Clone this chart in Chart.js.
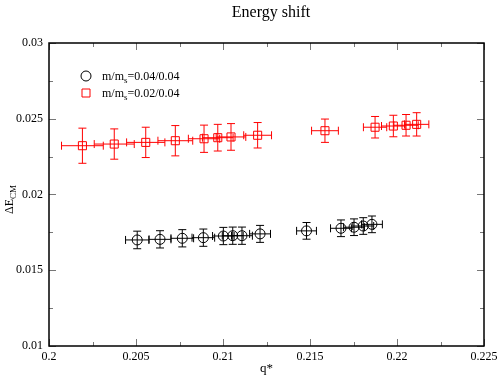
<!DOCTYPE html>
<html lang="en">
<head>
    <meta charset="UTF-8">
    <title>Energy shift</title>
    <script src="https://cdn.jsdelivr.net/npm/chart.js"></script>
    <style>
        body { margin: 0; background: white; }
        .chart-container { width: 498px; height: 376px; }
    </style>
</head>
<body>
    <div class="chart-container">
        <canvas id="shiftChart"></canvas>
    </div>

    <script>
        // m/ms = 0.04/0.04 (black circles)
        const qHeavy = [0.20507, 0.20638, 0.20766, 0.20887, 0.21002, 0.21056, 0.21109, 0.21213, 0.2148, 0.21678, 0.21753, 0.21806, 0.21856];
        const eHeavy = [0.0170, 0.01704, 0.01711, 0.01715, 0.01726, 0.01728, 0.01728, 0.0174, 0.0176, 0.01777, 0.01784, 0.01792, 0.01803];
        const qErrHeavy = [0.00067, 0.00063, 0.00065, 0.00065, 0.00062, 0.0006, 0.0006, 0.0006, 0.00057, 0.0006, 0.0006, 0.0006, 0.0006];
        const eErrHeavy = [0.00058, 0.00057, 0.00057, 0.00057, 0.00057, 0.00057, 0.00057, 0.00056, 0.00055, 0.00055, 0.00055, 0.00055, 0.00055];

        // m/ms = 0.02/0.04 (red squares)
        const qLight = [0.20192, 0.20375, 0.20556, 0.20726, 0.20891, 0.2097, 0.21046, 0.21199, 0.21586, 0.21874, 0.21979, 0.22052, 0.22113];
        const eLight = [0.02322, 0.02333, 0.02344, 0.02355, 0.02368, 0.02375, 0.0238, 0.02391, 0.02421, 0.02444, 0.02452, 0.02457, 0.02463];
        const qErrLight = [0.0012, 0.00115, 0.0011, 0.001, 0.0009, 0.00088, 0.00085, 0.0008, 0.00077, 0.00067, 0.00068, 0.0007, 0.0007];
        const eErrLight = [0.00116, 0.001, 0.001, 0.001, 0.0009, 0.00088, 0.00088, 0.00084, 0.00077, 0.00071, 0.00071, 0.00071, 0.00077];

        const xTicks = [0.2, 0.205, 0.21, 0.215, 0.22, 0.225];
        const yTicks = [0.01, 0.015, 0.02, 0.025, 0.03];

        const SERIF = '"Liberation Serif", "DejaVu Serif", serif';

        const toPoints = (xs, ys) => xs.map((x, i) => ({ x: x, y: ys[i] }));

        // error bars drawn under the markers
        const errorBars = {
            id: 'errorBars',
            beforeDatasetsDraw(chart) {
                const ctx = chart.ctx;
                const xs = chart.scales.x, ys = chart.scales.y;
                const cap = 4;
                chart.data.datasets.forEach(ds => {
                    ctx.save();
                    ctx.strokeStyle = ds.borderColor;
                    ctx.lineWidth = 1;
                    ds.data.forEach((p, i) => {
                        const px = xs.getPixelForValue(p.x);
                        const py = ys.getPixelForValue(p.y);
                        const x0 = xs.getPixelForValue(p.x - ds.xErr[i]);
                        const x1 = xs.getPixelForValue(p.x + ds.xErr[i]);
                        const y0 = ys.getPixelForValue(p.y - ds.yErr[i]);
                        const y1 = ys.getPixelForValue(p.y + ds.yErr[i]);
                        ctx.beginPath();
                        ctx.moveTo(x0, py); ctx.lineTo(x1, py);
                        ctx.moveTo(x0, py - cap); ctx.lineTo(x0, py + cap);
                        ctx.moveTo(x1, py - cap); ctx.lineTo(x1, py + cap);
                        ctx.moveTo(px, y0); ctx.lineTo(px, y1);
                        ctx.moveTo(px - cap, y0); ctx.lineTo(px + cap, y0);
                        ctx.moveTo(px - cap, y1); ctx.lineTo(px + cap, y1);
                        ctx.stroke();
                    });
                    ctx.restore();
                });
            }
        };

        // frame, inward ticks on all sides, title, axis titles and legend
        const frame = {
            id: 'frame',
            afterDraw(chart) {
                const ctx = chart.ctx;
                const a = chart.chartArea;
                const xs = chart.scales.x, ys = chart.scales.y;
                ctx.save();

                ctx.strokeStyle = '#777';
                ctx.lineWidth = 1;
                ctx.beginPath();
                for (let v = 0.2; v <= 0.2251; v += 0.0025) {
                    const px = Math.round(xs.getPixelForValue(v)) + 0.5;
                    const len = Math.round(v / 0.0025) % 2 === 0 ? 7 : 4;
                    ctx.moveTo(px, a.bottom); ctx.lineTo(px, a.bottom - len);
                    ctx.moveTo(px, a.top); ctx.lineTo(px, a.top + len);
                }
                for (let v = 0.01; v <= 0.0301; v += 0.0025) {
                    const py = Math.round(ys.getPixelForValue(v)) + 0.5;
                    const len = Math.round(v / 0.0025) % 2 === 0 ? 7 : 4;
                    ctx.moveTo(a.left, py); ctx.lineTo(a.left + len, py);
                    ctx.moveTo(a.right, py); ctx.lineTo(a.right - len, py);
                }
                ctx.stroke();

                ctx.strokeStyle = '#000';
                ctx.lineWidth = 1.5;
                ctx.strokeRect(a.left, a.top, a.right - a.left, a.bottom - a.top);

                ctx.fillStyle = '#000';
                ctx.textAlign = 'center';
                ctx.textBaseline = 'middle';
                ctx.font = '16px ' + SERIF;
                ctx.fillText('Energy shift', 271, 13);

                ctx.textBaseline = 'alphabetic';
                ctx.font = '13px ' + SERIF;
                ctx.fillText('q*', (a.left + a.right) / 2, 372);

                // y title: ΔE with subscript CM, rotated
                ctx.save();
                ctx.translate(13, (a.top + a.bottom) / 2 + 5);
                ctx.rotate(-Math.PI / 2);
                ctx.textAlign = 'left';
                ctx.font = '12px ' + SERIF;
                const main = 'ΔE';
                const wMain = ctx.measureText(main).width;
                ctx.font = '9px ' + SERIF;
                const wSub = ctx.measureText('CM').width;
                const start = -(wMain + wSub) / 2;
                ctx.font = '12px ' + SERIF;
                ctx.fillText(main, start, 0);
                ctx.font = '9px ' + SERIF;
                ctx.fillText('CM', start + wMain, 3);
                ctx.restore();

                // legend
                const items = [
                    { ds: chart.data.datasets[0], y: 76, pre: 'm/m', post: '=0.04/0.04' },
                    { ds: chart.data.datasets[1], y: 93, pre: 'm/m', post: '=0.02/0.04' }
                ];
                items.forEach(it => {
                    ctx.strokeStyle = it.ds.borderColor;
                    ctx.lineWidth = 1;
                    ctx.beginPath();
                    if (it.ds.pointStyle === 'circle') {
                        ctx.arc(86, it.y, 5, 0, Math.PI * 2);
                    } else {
                        ctx.rect(82, it.y - 4, 8, 8);
                    }
                    ctx.stroke();
                    ctx.fillStyle = '#000';
                    ctx.textAlign = 'left';
                    ctx.font = '12px ' + SERIF;
                    let x = 102;
                    ctx.fillText(it.pre, x, it.y + 4);
                    x += ctx.measureText(it.pre).width;
                    ctx.font = '9px ' + SERIF;
                    ctx.fillText('s', x, it.y + 7);
                    x += ctx.measureText('s').width;
                    ctx.font = '12px ' + SERIF;
                    ctx.fillText(it.post, x, it.y + 4);
                });

                ctx.restore();
            }
        };

        const ctx = document.getElementById('shiftChart').getContext('2d');
        new Chart(ctx, {
            type: 'scatter',
            data: {
                datasets: [
                    {
                        label: 'm/ms=0.04/0.04',
                        data: toPoints(qHeavy, eHeavy),
                        xErr: qErrHeavy,
                        yErr: eErrHeavy,
                        borderColor: '#000000',
                        backgroundColor: 'rgba(0,0,0,0)',
                        pointStyle: 'circle',
                        pointRadius: 5,
                        borderWidth: 1
                    },
                    {
                        label: 'm/ms=0.02/0.04',
                        data: toPoints(qLight, eLight),
                        xErr: qErrLight,
                        yErr: eErrLight,
                        borderColor: '#ff0000',
                        backgroundColor: 'rgba(0,0,0,0)',
                        pointStyle: 'rect',
                        pointRadius: 5.7,
                        borderWidth: 1
                    }
                ]
            },
            options: {
                responsive: true,
                maintainAspectRatio: false,
                animation: false,
                layout: { padding: { left: 0, right: 14, top: 43, bottom: 0 } },
                plugins: {
                    legend: { display: false },
                    tooltip: { enabled: false },
                    title: { display: false }
                },
                scales: {
                    x: {
                        type: 'linear',
                        min: 0.2,
                        max: 0.225,
                        afterBuildTicks: s => { s.ticks = xTicks.map(v => ({ value: v })); },
                        afterFit: s => { s.height = 30; s.paddingLeft = 0; s.paddingRight = 0; },
                        grid: { display: false, drawTicks: false },
                        border: { display: false },
                        ticks: {
                            padding: 4,
                            color: '#000',
                            maxRotation: 0,
                            font: { family: SERIF, size: 12 },
                            callback: v => String(+v.toFixed(3))
                        }
                    },
                    y: {
                        type: 'linear',
                        min: 0.01,
                        max: 0.03,
                        afterBuildTicks: s => { s.ticks = yTicks.map(v => ({ value: v })); },
                        afterFit: s => { s.width = 49; s.paddingTop = 0; s.paddingBottom = 0; },
                        grid: { display: false, drawTicks: false },
                        border: { display: false },
                        ticks: {
                            padding: 6,
                            color: '#000',
                            font: { family: SERIF, size: 12 },
                            callback: v => String(+v.toFixed(3))
                        }
                    }
                }
            },
            plugins: [errorBars, frame]
        });
    </script>
</body>
</html>
